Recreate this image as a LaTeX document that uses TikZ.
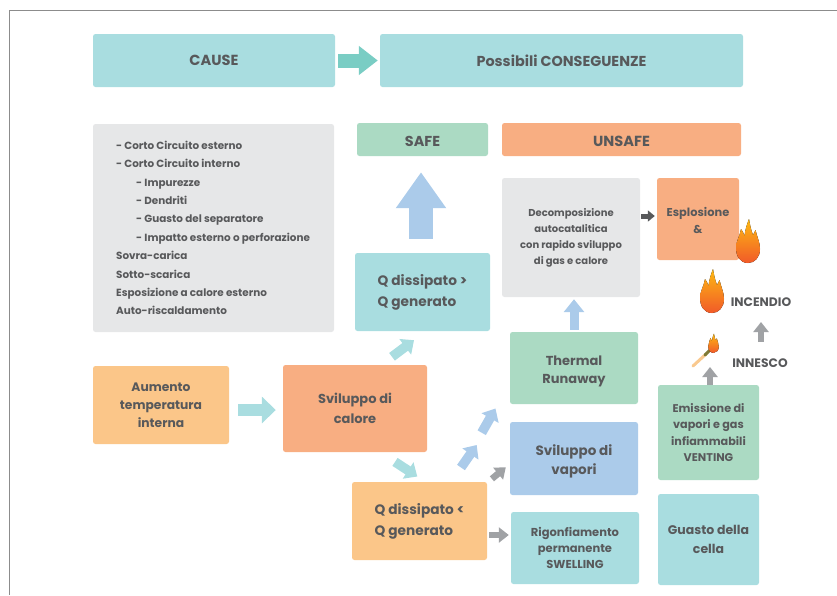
\documentclass[tikz,border=0pt]{standalone}
\usepackage{fontspec}
\setmainfont{Poppins}
\usetikzlibrary{arrows.meta}
\definecolor{tealbox}{HTML}{A9DDE0}
\definecolor{tealdark}{HTML}{7ACDC4}
\definecolor{greenbox}{HTML}{ABDAC3}
\definecolor{peachbox}{HTML}{F8AE82}
\definecolor{amberbox}{HTML}{FBC689}
\definecolor{bluebox}{HTML}{ABCBEA}
\definecolor{greybox}{HTML}{E6E7E8}
\definecolor{inkgrey}{HTML}{58595B}
\definecolor{arrowgrey}{HTML}{A0A2A5}
\definecolor{framegrey}{HTML}{8C8C8C}
\definecolor{flametop}{HTML}{FDB913}
\definecolor{flamelow}{HTML}{F15A29}
\definecolor{matchstick}{HTML}{F9C98F}
\definecolor{matchhead}{HTML}{7F7A35}
\newcommand{\fs}[2]{\bfseries\fontsize{#1}{#2}\selectfont}
\newcommand{\lowered}[1]{\raisebox{0pt}[\dimexpr\height+6pt\relax][\depth]{\begin{tabular}{@{}c@{}}#1\end{tabular}}}
\tikzset{
  flame/.pic={
    \fill[top color=flametop,bottom color=flamelow]
      (0,44) .. controls (-8,44) and (-12,37) .. (-12,29)
      .. controls (-12,22) and (-8,17) .. (-7,10)
      .. controls (-5,13) and (-4,15) .. (-3.5,17)
      .. controls (-3,11) and (-1,5) .. (1,0)
      .. controls (2,6) and (3,11) .. (5,16)
      .. controls (6,14) and (7,13) .. (7.5,11)
      .. controls (9,18) and (12,23) .. (12,30)
      .. controls (12,38) and (7,44) .. (0,44) -- cycle;
  }
}
\begin{document}
\begin{tikzpicture}[x=1pt,y=-1pt,
  block/.style={rectangle,rounded corners=2.5pt,inner sep=0pt,align=center,text=inkgrey},
  label/.style={inner sep=0pt,text=inkgrey,font=\fs{12.3}{14}},
  fat/.style={-{Triangle[length=11pt,width=19pt]},line width=9.5pt},
  slim/.style={-{Triangle[length=10pt,width=15pt]},line width=6.5pt,arrowgrey}]
\useasboundingbox (0,0) rectangle (837,595);
\draw[framegrey,line width=0.8pt] (837,10.5) -- (9.5,10.5) -- (9.5,595);
% top row
\node[block,fill=tealbox,minimum width=242,minimum height=53,font=\fs{14.6}{18}] (cause) at (214,60.5) {CAUSE};
\node[block,fill=tealbox,minimum width=363,minimum height=53,font=\fs{14.4}{18}] (conseq) at (561.5,60.5) {Possibili CONSEGUENZE};
\node[block,fill=greenbox,minimum width=131,minimum height=33,font=\fs{14.4}{18}] (safe) at (422.5,139.5) {\lowered{SAFE}};
\node[block,fill=peachbox,minimum width=239,minimum height=33,font=\fs{14.6}{18}] (unsafe) at (621.5,139.5) {\lowered{UNSAFE}};
% causes
\node[block,fill=greybox,minimum width=241,minimum height=208] (causelist) at (213.5,228) {};
\node[anchor=west,align=left,inner sep=0pt,text=inkgrey,font=\fs{10.4}{18.4}] (causetext) at (116,228) {- Corto Circuito esterno\\- Corto Circuito interno\\
  \hspace{20pt}- Impurezze\\\hspace{20pt}- Dendriti\\\hspace{20pt}- Guasto del separatore\\\hspace{20pt}- Impatto esterno o perforazione\\
  Sovra-carica\\Sotto-scarica\\Esposizione a calore esterno\\Auto-riscaldamento};
% flow
\node[block,fill=amberbox,minimum width=136,minimum height=78,font=\fs{12.3}{18}] (aumento) at (161,405) {Aumento\\temperatura\\interna};
\node[block,fill=peachbox,minimum width=144,minimum height=87,font=\fs{13}{20}] (calore) at (355,408.5) {Sviluppo di\\calore};
\node[block,fill=tealbox,minimum width=135,minimum height=78,font=\fs{13.7}{21}] (qmag) at (422.5,292) {\begin{tabular}{@{}l@{}}Q dissipato >\\Q generato\end{tabular}};
\node[block,fill=amberbox,minimum width=135,minimum height=78,font=\fs{13.7}{21}] (qmin) at (419.5,521) {\begin{tabular}{@{}l@{}}Q dissipato <\\Q generato\end{tabular}};
\node[block,fill=greenbox,minimum width=128,minimum height=72,font=\fs{13}{18}] (thermal) at (574,368) {\lowered{Thermal\\Runaway}};
\node[block,fill=bluebox,minimum width=128,minimum height=73,font=\fs{13.5}{19}] (vapori) at (574,458.5) {\lowered{Sviluppo di\\vapori}};
\node[block,fill=tealbox,minimum width=128,minimum height=72,font=\fs{11.5}{16}] (swelling) at (575,548) {Rigonfiamento\\permanente\\SWELLING};
\node[block,fill=greybox,minimum width=138,minimum height=119,font=\fs{10}{16}] (decomp) at (571,237.5) {Decomposizione\\autocatalitica\\con rapido sviluppo\\di gas e calore};
\node[block,fill=peachbox,minimum width=82,minimum height=82,font=\fs{11.4}{17}] (esplosione) at (698,219) {\lowered{Esplosione\\\&}};
\node[block,fill=greenbox,minimum width=101,minimum height=95,font=\fs{11.2}{16.5}] (venting) at (708.5,432.5) {Emissione di\\vapori e gas\\infiammabili\\VENTING};
\node[block,fill=tealbox,minimum width=101,minimum height=91,font=\fs{12.5}{19}] (guasto) at (708.5,539.5) {Guasto della\\cella};
\node[label] (incendio) at (761,302) {INCENDIO};
\node[label] (innesco) at (760,363) {INNESCO};
% icons
\pic at (748,219) {flame};
\pic at (712,269) {flame};
\draw[matchstick,line width=3pt,line cap=round] (693,366) -- (706,354);
\draw[matchhead,line width=3pt,line cap=round] (705,355) -- (711,349);
\pic[scale=0.44] at (713.5,333.5) {flame};
\coordinate (matchtip) at (710,367);
\coordinate (relayin) at (476.7,445);
\coordinate (relayout) at (481.7,432.7);
% arrows
\draw[-{Triangle[length=19pt,width=28pt]},line width=14pt,tealdark] ([xshift=3pt]cause.east) -- ([xshift=-2pt]conseq.west);
\draw[-{Triangle[length=36pt,width=48pt]},line width=24pt,bluebox] ([shift={(-1.5,-14)}]qmag.north) -- ([shift={(-1.5,16)}]safe.south);
\draw[-{Triangle[length=14pt,width=26pt]},line width=12pt,tealbox] ([shift={(9,5)}]aumento.east) -- ([shift={(-7,1.5)}]calore.west);
\draw[fat,tealbox] ([shift={(37,-8)}]calore.north) -- ([shift={(-8.5,9)}]qmag.south);
\draw[fat,tealbox] ([shift={(40,9.7)}]calore.south) -- ([shift={(-2.2,-5.3)}]qmin.north);
\draw[fat,bluebox] ([shift={(41.5,-14.3)}]qmin.north) -- (relayin);
\draw[fat,bluebox] (relayout) -- ([shift={(-14.3,4.3)}]thermal.south west);
\draw[-{Triangle[length=13pt,width=20pt]},line width=9pt,bluebox] ([shift={(0,-2)}]thermal.north) -- ([shift={(3,2)}]decomp.south);
\draw[slim] ([shift={(4.7,-3)}]qmin.north east) -- ([shift={(-4,8.8)}]vapori.west);
\draw[slim] ([shift={(2,14)}]qmin.east) -- ([shift={(-2,-13)}]swelling.west);
\draw[slim] ([shift={(1.5,0)}]venting.north) -- (matchtip);
\draw[slim] ([shift={(1,-21)}]innesco.center) -- ([shift={(0,20)}]incendio.center);
\draw[-{Triangle[length=7pt,width=11pt]},line width=5pt,inkgrey] ([shift={(1,-21.5)}]decomp.east) -- ([shift={(-2,-3)}]esplosione.west);
\end{tikzpicture}
\end{document}
